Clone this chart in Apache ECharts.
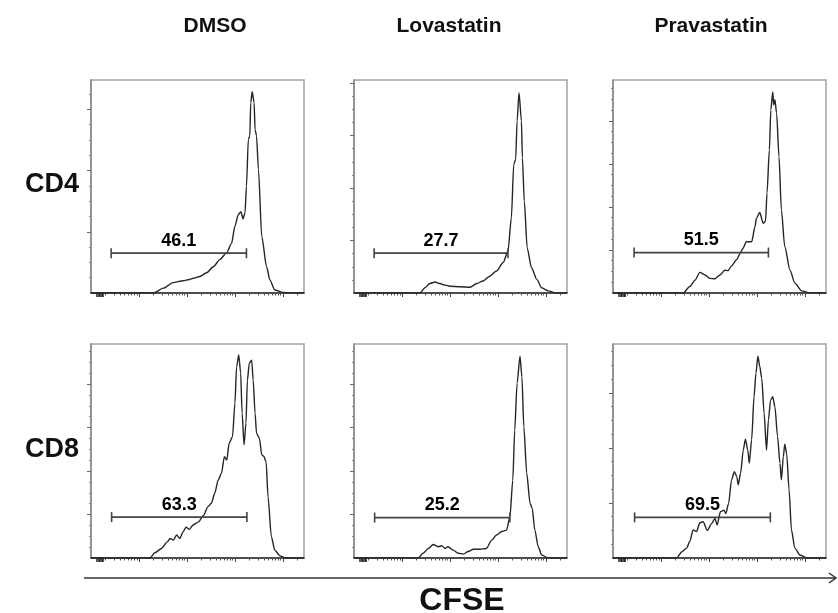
<!DOCTYPE html>
<html>
<head>
<meta charset="utf-8">
<script src="https://cdn.jsdelivr.net/npm/echarts@6/dist/echarts.min.js"></script>
<style>html,body{margin:0;padding:0;background:#fff}#c{width:838px;height:613px}</style>
</head>
<body>
<div id="c"></div>
<script>
// ---- data (x in log10 decades of CFSE intensity, y = cell count units) ----
const columnTitles = ['DMSO', 'Lovastatin', 'Pravastatin'];
const rowTitles = ['CD4', 'CD8'];
const axisTitle = 'CFSE';

const cd4Dmso = [[0,0],[1.0,0],[1.30,0],[1.51,8],[1.71,17],[1.92,20],[2.05,22],[2.13,24],[2.27,27],[2.41,33],[2.55,43],[2.69,55],[2.83,66],[2.93,81],[3.0,109],[3.07,128],[3.125,133],[3.17,121],[3.21,131],[3.24,174],[3.28,251],[3.31,256],[3.33,311],[3.36,329],[3.40,311],[3.42,267],[3.45,257],[3.49,202],[3.56,92],[3.66,43],[3.73,21],[3.83,5],[4.0,1],[4.2,0],[4.44,0]];
const cd4Lova = [[0,0],[1.0,0],[1.375,0],[1.48,10],[1.58,18],[1.69,21],[1.79,18],[1.90,15],[2.0,13],[2.21,12],[2.42,11],[2.56,18],[2.69,23],[2.83,32],[2.97,42],[3.11,58],[3.21,80],[3.28,143],[3.33,245],[3.37,255],[3.40,328],[3.44,382],[3.49,328],[3.51,258],[3.55,175],[3.61,86],[3.70,48],[3.81,26],[3.91,10],[4.05,4],[4.2,0],[4.44,0]];
const cd4Prava = [[0,0],[1.0,0],[1.465,0],[1.60,15],[1.71,30],[1.81,48],[1.92,42],[2.02,34],[2.125,33],[2.23,42],[2.33,53],[2.40,52],[2.47,63],[2.58,78],[2.65,92],[2.71,104],[2.78,119],[2.89,119],[2.96,154],[2.99,174],[3.06,187],[3.13,162],[3.18,167],[3.21,232],[3.26,333],[3.29,426],[3.33,467],[3.35,437],[3.375,449],[3.41,418],[3.46,317],[3.51,193],[3.58,108],[3.69,53],[3.79,23],[3.93,5],[4.1,0],[4.44,0]];
const cd8Dmso = [[0,0],[1.0,0],[1.23,0],[1.33,12],[1.47,22],[1.59,37],[1.65,45],[1.72,41],[1.785,53],[1.85,45],[1.92,60],[1.98,71],[2.05,66],[2.13,76],[2.24,83],[2.34,97],[2.44,118],[2.51,126],[2.58,149],[2.65,179],[2.72,195],[2.78,233],[2.83,225],[2.88,264],[2.95,279],[3.0,356],[3.035,440],[3.08,467],[3.12,425],[3.15,333],[3.19,260],[3.23,310],[3.26,409],[3.30,448],[3.35,455],[3.38,409],[3.42,333],[3.45,287],[3.51,275],[3.56,237],[3.60,234],[3.65,221],[3.69,141],[3.76,49],[3.83,18],[3.94,5],[4.05,0],[4.44,0]];
const cd8Lova = [[0,0],[1.0,0],[1.34,0],[1.44,11],[1.55,22],[1.65,31],[1.76,26],[1.83,28],[1.90,22],[1.96,26],[2.07,18],[2.17,11],[2.28,9],[2.38,15],[2.49,20],[2.625,20],[2.76,22],[2.87,41],[2.97,53],[3.08,61],[3.18,64],[3.25,95],[3.31,179],[3.35,294],[3.40,402],[3.46,464],[3.50,417],[3.54,302],[3.60,195],[3.67,126],[3.715,114],[3.77,64],[3.84,26],[3.91,7],[4.05,0],[4.44,0]];
const cd8Prava = [[0,0],[1.0,0],[1.33,0],[1.43,11],[1.535,18],[1.60,30],[1.67,51],[1.74,48],[1.81,64],[1.88,66],[1.965,50],[2.06,63],[2.125,72],[2.17,60],[2.24,84],[2.31,87],[2.35,81],[2.41,99],[2.47,142],[2.53,157],[2.58,148],[2.61,133],[2.66,154],[2.715,196],[2.76,216],[2.81,196],[2.84,172],[2.89,215],[2.94,293],[2.98,336],[3.02,367],[3.06,348],[3.10,327],[3.15,263],[3.20,196],[3.24,251],[3.285,287],[3.33,293],[3.375,275],[3.43,221],[3.48,172],[3.51,142],[3.55,184],[3.58,207],[3.62,190],[3.67,124],[3.72,51],[3.79,18],[3.90,5],[4.05,0],[4.44,0]];

const histograms = [cd4Dmso, cd4Lova, cd4Prava, cd8Dmso, cd8Lova, cd8Prava];
const gateLabels = ['46.1', '27.7', '51.5', '63.3', '25.2', '69.5'];
const gateLow  = [0.42, 0.42, 0.44, 0.43, 0.43, 0.45];
const gateHigh = [3.24, 3.21, 3.24, 3.25, 3.25, 3.28];
const gateLevel = [65, 76, 94, 94, 93, 74];
const yMaxima = [348, 406, 495, 492, 492, 389];
const yMajorStep = 100;
const yMinorStep = 25;
const xMax = 4.44;
const xMajorTicks = [1, 2, 3, 4];
const xZeroCluster = [0.13, 0.16, 0.19, 0.22, 0.25];

// ---- layout ----
const colLeft = [91, 354, 613];
const rowTop = [80, 344];
const panelW = 213;
const panelH = [213, 214];

const xMinorTicks = [];
for (let d = 0; d < 5; d++) {
  for (let k = 2; k <= 9; k++) {
    const v = d + Math.log10(k);
    if (v < xMax) xMinorTicks.push(+v.toFixed(4));
  }
}

const grid = [], xAxis = [], yAxis = [], series = [];
const font = '"Liberation Sans", Arial, sans-serif';

histograms.forEach((data, i) => {
  const r = Math.floor(i / 3), c = i % 3;
  grid.push({left: colLeft[c], top: rowTop[r], width: panelW, height: panelH[r],
    show: true, borderColor: '#a3a3a3', borderWidth: 1.5, backgroundColor: 'transparent'});
  const yMaj = [], yMin = [];
  for (let v = yMajorStep; v < yMaxima[i]; v += yMajorStep) yMaj.push(v);
  for (let v = yMinorStep; v < yMaxima[i]; v += yMinorStep) if (v % yMajorStep) yMin.push(v);
  xAxis.push({type: 'value', gridIndex: i, min: 0, max: xMax,
    axisLine: {show: true, onZero: false, lineStyle: {color: '#2a2a2a', width: 1.5}},
    axisTick: {show: true, inside: false, length: 4, customValues: xMajorTicks, lineStyle: {color: '#444', width: 1}},
    axisLabel: {show: false}, splitLine: {show: false}});
  xAxis.push({type: 'value', gridIndex: i, min: 0, max: xMax, position: 'bottom',
    axisLine: {show: false},
    axisTick: {show: true, inside: false, length: 2.5, customValues: xMinorTicks, lineStyle: {color: '#555', width: 1}},
    axisLabel: {show: false}, splitLine: {show: false}});
  xAxis.push({type: 'value', gridIndex: i, min: 0, max: xMax, position: 'bottom',
    axisLine: {show: false},
    axisTick: {show: true, inside: false, length: 4, customValues: xZeroCluster, lineStyle: {color: '#222', width: 1.5}},
    axisLabel: {show: false}, splitLine: {show: false}});
  yAxis.push({type: 'value', gridIndex: i, min: 0, max: yMaxima[i],
    axisLine: {show: true, lineStyle: {color: '#8a8a8a', width: 1.5}},
    axisTick: {show: true, inside: false, length: 4, customValues: yMaj, lineStyle: {color: '#666', width: 1}},
    axisLabel: {show: false}, splitLine: {show: false}});
  yAxis.push({type: 'value', gridIndex: i, min: 0, max: yMaxima[i], position: 'left',
    axisLine: {show: false},
    axisTick: {show: true, inside: false, length: 2, customValues: yMin, lineStyle: {color: '#888', width: 1}},
    axisLabel: {show: false}, splitLine: {show: false}});

  const xi = i * 3, yi = i * 2;
  series.push({type: 'line', xAxisIndex: xi, yAxisIndex: yi, data: data,
    showSymbol: false, smooth: 0.25, smoothMonotone: 'x',
    lineStyle: {color: '#262626', width: 1.4}, silent: true});
  series.push({type: 'line', xAxisIndex: xi, yAxisIndex: yi,
    data: [[gateLow[i], gateLevel[i]], [gateHigh[i], gateLevel[i]]],
    symbol: 'rect', symbolSize: [1.6, 10], showSymbol: true,
    itemStyle: {color: '#444'}, lineStyle: {color: '#444', width: 1.8}, silent: true});
  series.push({type: 'scatter', xAxisIndex: xi, yAxisIndex: yi,
    data: [[(gateLow[i] + gateHigh[i]) / 2, gateLevel[i]]],
    symbol: 'circle', symbolSize: 1, itemStyle: {color: 'rgba(0,0,0,0)'},
    label: {show: true, position: 'top', distance: 3, formatter: gateLabels[i],
      fontFamily: font, fontWeight: 'bold', fontSize: 18, color: '#000', opacity: 1,
      textBorderWidth: 0}, silent: true});
});

const graphic = [];
const colCenters = [215, 449, 711];
columnTitles.forEach((t, c) => graphic.push({type: 'text', x: colCenters[c], y: 26,
  style: {text: t, font: 'bold 21px ' + font, fill: '#111', align: 'center', verticalAlign: 'middle'}}));
const rowCenters = [185, 450];
rowTitles.forEach((t, r) => graphic.push({type: 'text', x: 52, y: rowCenters[r],
  style: {text: t, font: 'bold 27px ' + font, fill: '#111', align: 'center', verticalAlign: 'middle'}}));
graphic.push({type: 'line', shape: {x1: 84, y1: 578, x2: 835, y2: 578}, style: {stroke: '#333', lineWidth: 1.5}});
graphic.push({type: 'polyline', shape: {points: [[829, 573], [836, 578], [829, 583]]}, style: {stroke: '#333', lineWidth: 1.5, fill: null}});
graphic.push({type: 'text', x: 462, y: 601,
  style: {text: axisTitle, font: 'bold 32px ' + font, fill: '#111', align: 'center', verticalAlign: 'middle'}});

const chart = echarts.init(document.getElementById('c'), null, {renderer: 'canvas'});
chart.setOption({animation: false, backgroundColor: '#fff', grid, xAxis, yAxis, series, graphic});
</script>
</body>
</html>
